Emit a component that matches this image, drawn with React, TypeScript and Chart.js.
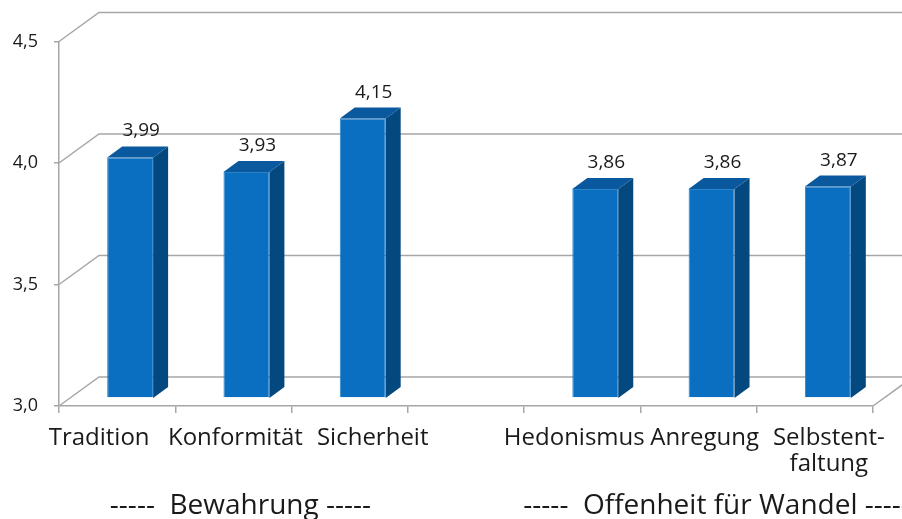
import React, { useEffect, useRef } from "react";
import { Chart, registerables } from "chart.js";

Chart.register(...registerables);

// ---- data ----
const categories: (string | string[])[] = [
  "Tradition",
  "Konformität",
  "Sicherheit",
  "",
  "Hedonismus",
  "Anregung",
  ["Selbstent-", "faltung"],
];
const values: (number | null)[] = [3.99, 3.93, 4.15, null, 3.86, 3.86, 3.87];
const yTicks = [3.0, 3.5, 4.0, 4.5];
const groupLabels = ["-----  Bewahrung -----", "-----  Offenheit für Wandel -----"];
const groupCenterIndex = [1, 5];

// ---- styling ----
const FONT = '"Open Sans", "Noto Sans", sans-serif';
const GRID = "#a6a6a6";
const TEXT = "#1a1a1a";
const FRONT = "#0a6fc0";
const SIDE = "#03497f";
const TOP = "#0a589d";
const WALL_DX = 40;
const WALL_DY = 29;
const BAR_SHIFT_X = 13;
const BAR_SHIFT_Y = 8;
const BAR_DX = 15;
const BAR_DY = 11;
const GROUP_NUDGE = [7, 18];
const LABEL_NUDGE = [-18, 2, 23, 0, -8, 6, 14];

const fmt = (v: number, d: number) => v.toFixed(d).replace(".", ",");

const threeD = {
  id: "threeD",
  beforeDatasetsDraw(chart: any) {
    const { ctx, chartArea, scales } = chart;
    const y = scales.y;
    ctx.save();
    ctx.strokeStyle = GRID;
    ctx.lineWidth = 1.5;
    for (const v of yTicks) {
      const py = y.getPixelForValue(v);
      ctx.beginPath();
      ctx.moveTo(chartArea.left, py);
      ctx.lineTo(chartArea.left + WALL_DX, py - WALL_DY);
      ctx.lineTo(chart.width, py - WALL_DY);
      ctx.stroke();
    }
    const by = y.getPixelForValue(yTicks[0]);
    ctx.beginPath();
    ctx.moveTo(chartArea.right, by);
    ctx.lineTo(chartArea.right + WALL_DX, by - WALL_DY);
    ctx.stroke();
    ctx.restore();
    ctx.save();
    ctx.translate(BAR_SHIFT_X, -BAR_SHIFT_Y);
  },
  afterDatasetsDraw(chart: any) {
    const { ctx, scales } = chart;
    const meta = chart.getDatasetMeta(0);
    const base = scales.y.getPixelForValue(yTicks[0]);
    meta.data.forEach((bar: any, i: number) => {
      const v = values[i];
      if (v == null) return;
      const { x, y, width } = bar.getProps(["x", "y", "width"], true);
      const l = x - width / 2;
      const r = x + width / 2;
      ctx.fillStyle = SIDE;
      ctx.beginPath();
      ctx.moveTo(r, y);
      ctx.lineTo(r + BAR_DX, y - BAR_DY);
      ctx.lineTo(r + BAR_DX, base - BAR_DY);
      ctx.lineTo(r, base);
      ctx.closePath();
      ctx.fill();
      ctx.fillStyle = TOP;
      ctx.beginPath();
      ctx.moveTo(l, y);
      ctx.lineTo(l + BAR_DX, y - BAR_DY);
      ctx.lineTo(r + BAR_DX, y - BAR_DY);
      ctx.lineTo(r, y);
      ctx.closePath();
      ctx.fill();
      ctx.fillStyle = TEXT;
      ctx.font = `19px ${FONT}`;
      ctx.textAlign = "center";
      ctx.textBaseline = "alphabetic";
      ctx.fillText(fmt(v, 2), x + 11, y - BAR_DY - 10);
    });
    ctx.restore();
  },
  afterDraw(chart: any) {
    const { ctx, scales } = chart;
    ctx.save();
    ctx.fillStyle = TEXT;
    ctx.textAlign = "center";
    ctx.textBaseline = "alphabetic";
    // category labels
    ctx.font = `24px ${FONT}`;
    categories.forEach((lab, i) => {
      const cx = scales.x.getPixelForValue(i) + LABEL_NUDGE[i];
      const lines = Array.isArray(lab) ? lab : [lab];
      lines.forEach((t, j) => ctx.fillText(t, cx, 445 + j * 26));
    });
    // group captions
    ctx.font = `28px ${FONT}`;
    groupLabels.forEach((t, i) => {
      const cx = scales.x.getPixelForValue(groupCenterIndex[i]) + GROUP_NUDGE[i];
      ctx.fillText(t, cx, 514);
    });
    ctx.restore();
  },
};

export default function App() {
  const ref = useRef<HTMLCanvasElement | null>(null);
  useEffect(() => {
    if (!ref.current) return;
    const chart = new Chart(ref.current, {
      type: "bar",
      data: {
        labels: categories as any,
        datasets: [
          {
            data: values as any,
            base: yTicks[0],
            backgroundColor: FRONT,
            borderColor: "#2a84cc",
            borderWidth: 1,
            categoryPercentage: 1,
            barPercentage: 0.395,
          },
        ],
      },
      options: {
        responsive: false,
        animation: false,
        devicePixelRatio: 1,
        layout: { padding: { top: 41.5, right: 29, left: 0, bottom: 0 } },
        plugins: { legend: { display: false }, tooltip: { enabled: false } },
        scales: {
          x: {
            type: "category",
            offset: true,
            grid: {
              display: true,
              drawOnChartArea: false,
              drawTicks: true,
              tickLength: 7,
              color: GRID,
              lineWidth: 1.5,
              offset: true,
            },
            border: { display: true, color: GRID, width: 1.5 },
            ticks: { display: false, autoSkip: false, maxRotation: 0 },
            afterFit: (s: any) => {
              s.height = 113;
            },
          },
          y: {
            min: 3,
            max: 4.5,
            ticks: {
              stepSize: 0.5,
              color: TEXT,
              font: { family: FONT, size: 18 },
              padding: 16,
              callback: (v: any) => fmt(Number(v), 1),
            },
            grid: {
              display: true,
              drawOnChartArea: false,
              tickLength: 5,
              color: GRID,
              lineWidth: 1.5,
            },
            border: { display: true, color: GRID, width: 1.5 },
            afterFit: (s: any) => {
              s.width = 59;
            },
          },
        },
      } as any,
      plugins: [threeD],
    });
    return () => chart.destroy();
  }, []);
  return (
    <div style={{ position: "absolute", left: 0, top: 0, width: 902, height: 519, background: "#fff" }}>
      <canvas ref={ref} width={902} height={519} style={{ display: "block" }} />
    </div>
  );
}
